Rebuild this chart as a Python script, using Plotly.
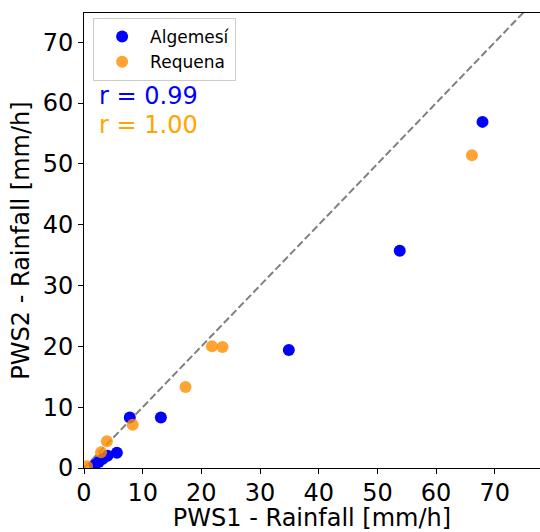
import plotly.graph_objects as go

# Data
alg_x = [67.9, 53.8, 34.9, 13.1, 7.8, 5.6, 4.0, 3.2, 2.5, 1.8]
alg_y = [56.9, 35.7, 19.4, 8.3, 8.3, 2.5, 2.0, 1.5, 1.0, 0.5]
req_x = [66.1, 23.6, 21.8, 17.3, 8.3, 3.9, 2.9, 0.5]
req_y = [51.4, 19.9, 20.0, 13.3, 7.1, 4.4, 2.6, 0.3]
r_alg = 0.99
r_req = 1.00
ticks = [0, 10, 20, 30, 40, 50, 60, 70]
line_xy = [0, 80]

FONT = "DejaVu Sans"
BLUE = "#0000ff"
ORANGE = "rgba(255,140,0,0.8)"

fig = go.Figure()
fig.add_trace(go.Scatter(x=line_xy, y=line_xy, mode="lines", showlegend=False,
                         line=dict(color="#808080", width=2, dash="7.4px,3.2px"),
                         hoverinfo="skip"))
fig.add_trace(go.Scatter(x=alg_x, y=alg_y, mode="markers", name="Algemesí",
                         marker=dict(color=BLUE, size=12, line=dict(width=0))))
fig.add_trace(go.Scatter(x=req_x, y=req_y, mode="markers", name="Requena",
                         marker=dict(color=ORANGE, size=12, line=dict(width=0))))

fig.add_annotation(x=0.0285, y=0.818, xref="paper", yref="paper", xanchor="left",
                   yanchor="middle", showarrow=False, text=f"r = {r_alg:.2f}",
                   font=dict(family=FONT, size=24, color=BLUE))
fig.add_annotation(x=0.0285, y=0.754, xref="paper", yref="paper", xanchor="left",
                   yanchor="middle", showarrow=False, text=f"r = {r_req:.2f}",
                   font=dict(family=FONT, size=24, color="#ffa500"))

fig.update_layout(
    width=540, height=532, autosize=False,
    margin=dict(l=84, r=0, t=13, b=64, autoexpand=False),
    paper_bgcolor="white", plot_bgcolor="white",
    font=dict(family=FONT, size=24, color="black"),
    legend=dict(x=0.02, y=0.989, xanchor="left", yanchor="top",
                bgcolor="white", bordercolor="#cccccc", borderwidth=1,
                font=dict(family=FONT, size=17), itemsizing="constant",
                itemwidth=46),
    xaxis=dict(range=[0, 77.7], tickvals=ticks, showgrid=False, zeroline=False,
               showline=True, linecolor="black", linewidth=1, mirror=True,
               ticks="outside", ticklen=5, tickcolor="black", automargin=False,
               tickfont=dict(family=FONT, size=24), ticklabelstandoff=-2,
               title=dict(text="PWS1 - Rainfall [mm/h]", standoff=8,
                          font=dict(family=FONT, size=24))),
    yaxis=dict(range=[0, 74.8], tickvals=ticks, showgrid=False, zeroline=False,
               showline=True, linecolor="black", linewidth=1,
               ticks="outside", ticklen=5, tickcolor="black", automargin=False,
               tickfont=dict(family=FONT, size=24),
               title=dict(text="PWS2 - Rainfall [mm/h]", standoff=6,
                          font=dict(family=FONT, size=24))),
)

fig.write_html("out.html", config={"responsive": False, "displayModeBar": False},
               post_script="document.body.style.margin='0';document.body.style.overflow='hidden';")
